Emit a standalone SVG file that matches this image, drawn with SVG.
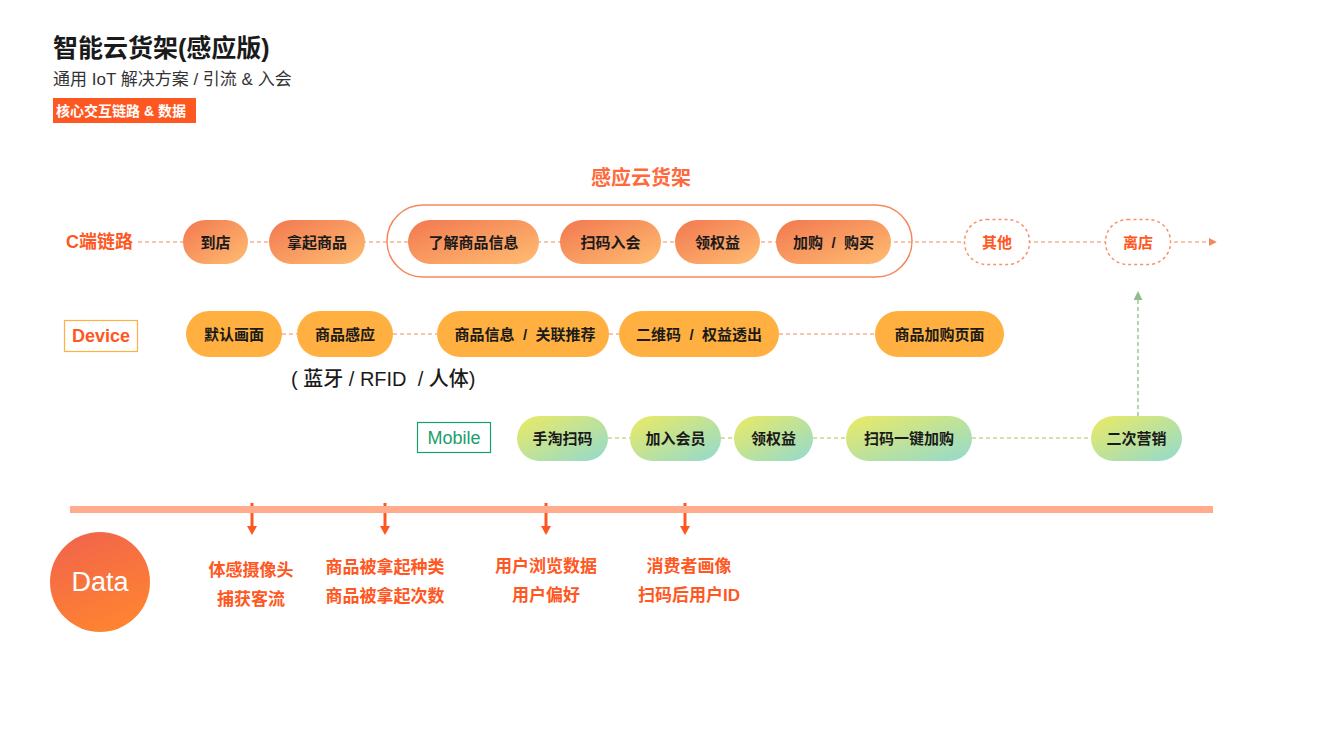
<svg xmlns="http://www.w3.org/2000/svg" width="1338" height="750" viewBox="0 0 1338 750">
<defs>
<linearGradient id="gC" x1="0" y1="0" x2="1" y2="1"><stop offset="0" stop-color="#F27850"/><stop offset="1" stop-color="#FFBD72"/></linearGradient>
<linearGradient id="gM" x1="0" y1="0" x2="1" y2="1"><stop offset="0" stop-color="#ECEA62"/><stop offset="1" stop-color="#92DACF"/></linearGradient>
<linearGradient id="gD" x1="0.3" y1="0" x2="0.7" y2="1"><stop offset="0" stop-color="#F2654A"/><stop offset="1" stop-color="#FF8530"/></linearGradient>
<marker id="arO" viewBox="0 0 10 10" refX="9" refY="5" markerWidth="8" markerHeight="8" markerUnits="userSpaceOnUse" orient="auto"><path d="M0,0 L10,5 L0,10 z" fill="#F08A5E"/></marker>
<marker id="arG" viewBox="0 0 10 10" refX="9" refY="5" markerWidth="9" markerHeight="9" markerUnits="userSpaceOnUse" orient="auto"><path d="M0,0 L10,5 L0,10 z" fill="#8DBF8D"/></marker>
</defs>
<style>
text{font-family:"Liberation Sans","Noto Sans CJK SC",sans-serif;}
.pt{font-size:15px;font-weight:600;fill:#1a1a1a;text-anchor:middle;dominant-baseline:central;}
.ot{font-size:15px;font-weight:600;fill:#FF5722;text-anchor:middle;dominant-baseline:central;}
.dt{font-size:17px;font-weight:600;fill:#FF5722;text-anchor:middle;dominant-baseline:central;}
.pc{fill:url(#gC);}
.pm{fill:url(#gM);}
.pd{fill:#FFB040;}
.dc{fill:none;stroke:#F08A5E;stroke-width:1.2;stroke-dasharray:4 3;}
.dm{fill:none;stroke:#A9C45E;stroke-width:1.2;stroke-dasharray:4 3;}
.dg{fill:none;stroke:#8DBF8D;stroke-width:1.3;stroke-dasharray:4 3;}
.da{stroke:#FF5722;stroke-width:3;}
.ah{fill:#FF5722;}
</style>

<g id="header">
<text x="53" y="57" font-size="25" font-weight="600" fill="#1a1a1a">智能云货架(感应版)</text>
<text x="53" y="85" font-size="17" fill="#333">通用 IoT 解决方案 / 引流 &amp; 入会</text>
<rect x="53" y="98" width="143" height="25" fill="#FF5722"/>
<text x="56" y="115.5" font-size="14" font-weight="bold" fill="#fff">核心交互链路 &amp; 数据</text>
</g>

<g id="connectors">
<line class="dc" x1="138" y1="242" x2="1216" y2="242" marker-end="url(#arO)"/>
<line class="dc" x1="282" y1="334" x2="297" y2="334"/>
<line class="dc" x1="393" y1="334" x2="437" y2="334"/>
<line class="dc" x1="609" y1="334" x2="619" y2="334"/>
<line class="dc" x1="779" y1="334" x2="875" y2="334"/>
<line class="dm" x1="608" y1="438" x2="630" y2="438"/>
<line class="dm" x1="721" y1="438" x2="734" y2="438"/>
<line class="dm" x1="813" y1="438" x2="846" y2="438"/>
<line class="dm" x1="972" y1="438" x2="1091" y2="438"/>
<line class="dg" x1="1138" y1="416" x2="1138" y2="292" marker-end="url(#arG)"/>
<line class="da" x1="252" y1="503" x2="252" y2="527"/><polygon class="ah" points="247,526 257,526 252,535"/>
<line class="da" x1="385" y1="503" x2="385" y2="527"/><polygon class="ah" points="380,526 390,526 385,535"/>
<line class="da" x1="546" y1="503" x2="546" y2="527"/><polygon class="ah" points="541,526 551,526 546,535"/>
<line class="da" x1="685" y1="503" x2="685" y2="527"/><polygon class="ah" points="680,526 690,526 685,535"/>
</g>

<g id="label-c"><text x="66" y="242" font-size="18" font-weight="600" fill="#FF5722" dominant-baseline="central">C端链路</text></g>
<g id="group-shelf">
<text x="641" y="178" font-size="20" font-weight="bold" fill="#FF6A3D" text-anchor="middle" dominant-baseline="central">感应云货架</text>
<rect x="387" y="205" width="525" height="72" rx="36" fill="none" stroke="#F5875A" stroke-width="1.5"/>
</g>
<g id="n-daodian"><rect class="pc" x="183" y="220" width="65" height="44" rx="22"/><text class="pt" x="215.5" y="242">到店</text></g>
<g id="n-naqi"><rect class="pc" x="269" y="220" width="96" height="44" rx="22"/><text class="pt" x="317" y="242">拿起商品</text></g>
<g id="n-liaojie"><rect class="pc" x="408" y="220" width="131" height="44" rx="22"/><text class="pt" x="473.5" y="242">了解商品信息</text></g>
<g id="n-saoma"><rect class="pc" x="560" y="220" width="101" height="44" rx="22"/><text class="pt" x="610.5" y="242">扫码入会</text></g>
<g id="n-lingquanyi"><rect class="pc" x="675" y="220" width="85" height="44" rx="22"/><text class="pt" x="717.5" y="242">领权益</text></g>
<g id="n-jiagou"><rect class="pc" x="776" y="220" width="115" height="44" rx="22"/><text class="pt" x="833.5" y="242" xml:space="preserve">加购  /  购买</text></g>
<g id="n-qita"><rect x="964.5" y="219.5" width="65" height="45" rx="22" fill="#fff" stroke="#F5916A" stroke-width="1.5" stroke-dasharray="3 3"/><text class="ot" x="997" y="242">其他</text></g>
<g id="n-lidian"><rect x="1105.5" y="219.5" width="65" height="45" rx="22" fill="#fff" stroke="#F5916A" stroke-width="1.5" stroke-dasharray="3 3"/><text class="ot" x="1138" y="242">离店</text></g>

<g id="label-device"><rect x="64.5" y="320.5" width="73" height="31" fill="#fff" stroke="#FFB040" stroke-width="1.2"/><text x="101" y="336" font-size="18" font-weight="bold" fill="#FF5722" text-anchor="middle" dominant-baseline="central">Device</text></g>
<g id="d-moren"><rect class="pd" x="186" y="311" width="96" height="46" rx="23"/><text class="pt" x="234" y="334">默认画面</text></g>
<g id="d-ganying"><rect class="pd" x="297" y="311" width="96" height="46" rx="23"/><text class="pt" x="345" y="334">商品感应</text></g>
<g id="d-xinxi"><rect class="pd" x="437" y="311" width="172" height="46" rx="23"/><text class="pt" x="525" y="334" xml:space="preserve">商品信息  /  关联推荐</text></g>
<g id="d-erweima"><rect class="pd" x="619" y="311" width="160" height="46" rx="23"/><text class="pt" x="699" y="334" xml:space="preserve">二维码  /  权益透出</text></g>
<g id="d-jiagou"><rect class="pd" x="875" y="311" width="129" height="46" rx="23"/><text class="pt" x="939.5" y="334">商品加购页面</text></g>
<g id="note-sensor"><text x="291" y="379" font-size="20" font-weight="500" fill="#1a1a1a" dominant-baseline="central" xml:space="preserve">( 蓝牙 / RFID  / 人体)</text></g>

<g id="label-mobile"><rect x="417.5" y="422.5" width="73" height="30" fill="#fff" stroke="#1A9E6E" stroke-width="1.2"/><text x="454" y="438" font-size="18" fill="#1A9E6E" text-anchor="middle" dominant-baseline="central">Mobile</text></g>
<g id="m-shoutao"><rect class="pm" x="517" y="416" width="91" height="45" rx="22.5"/><text class="pt" x="562.5" y="438.5">手淘扫码</text></g>
<g id="m-jiaru"><rect class="pm" x="630" y="416" width="91" height="45" rx="22.5"/><text class="pt" x="675.5" y="438.5">加入会员</text></g>
<g id="m-lingquanyi"><rect class="pm" x="734" y="416" width="79" height="45" rx="22.5"/><text class="pt" x="773.5" y="438.5">领权益</text></g>
<g id="m-yijian"><rect class="pm" x="846" y="416" width="126" height="45" rx="22.5"/><text class="pt" x="909" y="438.5">扫码一键加购</text></g>
<g id="m-erci"><rect class="pm" x="1091" y="416" width="91" height="45" rx="22.5"/><text class="pt" x="1136.5" y="438.5">二次营销</text></g>

<g id="data-bar"><rect x="70" y="506" width="1143" height="7" fill="#FFAB8C"/></g>
<g id="data-circle"><circle cx="100" cy="582" r="50" fill="url(#gD)"/><text x="100" y="582" font-size="27" fill="#fff" text-anchor="middle" dominant-baseline="central">Data</text></g>
<g id="data-1"><text class="dt" x="251" y="570">体感摄像头</text><text class="dt" x="251" y="599">捕获客流</text></g>
<g id="data-2"><text class="dt" x="385" y="567">商品被拿起种类</text><text class="dt" x="385" y="596">商品被拿起次数</text></g>
<g id="data-3"><text class="dt" x="546" y="566">用户浏览数据</text><text class="dt" x="546" y="595">用户偏好</text></g>
<g id="data-4"><text class="dt" x="689" y="566">消费者画像</text><text class="dt" x="689" y="595">扫码后用户ID</text></g>
</svg>
